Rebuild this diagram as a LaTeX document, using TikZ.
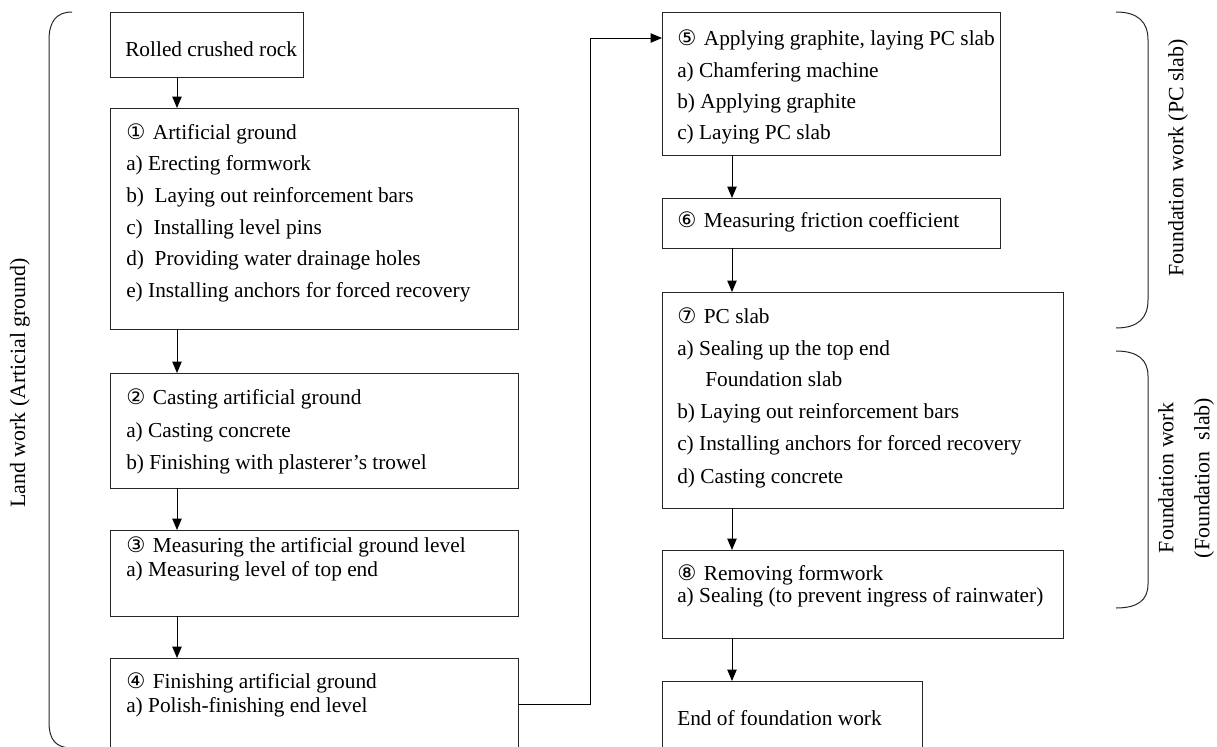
\documentclass[tikz,border=0pt]{standalone}
\usepackage{fontspec}
\setmainfont{Liberation Serif}
\newfontfamily\cf{DejaVu Sans}
\usetikzlibrary{arrows.meta,calc}
\newcommand\mkbox[5]{\node[box, minimum width={(#4)*0.75pt}, minimum height={(#5)*0.75pt}] (#1) at (#2,#3) {};}
\newcommand\cn[1]{{\cf\fontsize{16}{18}\selectfont #1}\hspace{0.35em}}
\begin{document}
\begin{tikzpicture}[x=0.75pt,y=-0.75pt,
  box/.style={draw=black!85, line width=0.75pt, anchor=north west, inner sep=0pt, outer sep=0pt},
  txt/.style={anchor=base west, inner sep=0pt, font=\fontsize{16}{19}\selectfont},
  side/.style={rotate=90, font=\fontsize{16.4}{27}\selectfont, align=center, inner sep=0pt},
  arr/.style={draw=black, line width=0.7pt, -{Triangle[length=8.5pt,width=7pt]}},
  brk/.style={draw=black!85, line width=0.75pt}]
\useasboundingbox (0,0) rectangle (1217,746);
% left column boxes
\mkbox{b0}{110}{12}{193}{65}
\mkbox{b1}{110}{108}{408}{221}
\mkbox{b2}{110}{373}{408}{115}
\mkbox{b3}{110}{530}{408}{86}
\mkbox{b4}{110}{658}{408}{142}
% right column boxes
\mkbox{b5}{662}{12}{338}{143}
\mkbox{b6}{662}{198}{338}{50}
\mkbox{b7}{662}{292}{401}{216}
\mkbox{b8}{662}{550}{401}{88}
\mkbox{b9}{662}{681}{260}{119}
% texts left
\node[txt] (t0) at (125,56) {Rolled crushed rock};
\node[txt] (t1a) at (126,139) {\cn{①}Artificial ground};
\node[txt] (t1b) at (126,170) {a) Erecting formwork};
\node[txt] (t1c) at (126,202) {b)\ \ Laying out reinforcement bars};
\node[txt] (t1d) at (126,234) {c)\ \ Installing level pins};
\node[txt] (t1e) at (126,265) {d)\ \ Providing water drainage holes};
\node[txt] (t1f) at (126,297) {e) Installing anchors for forced recovery};
\node[txt] (t2a) at (126,404) {\cn{②}Casting artificial ground};
\node[txt] (t2b) at (126,437) {a) Casting concrete};
\node[txt] (t2c) at (126,469) {b) Finishing with plasterer’s trowel};
\node[txt] (t3a) at (126,552) {\cn{③}Measuring the artificial ground level};
\node[txt] (t3b) at (126,576) {a) Measuring level of top end};
\node[txt] (t4a) at (126,688) {\cn{④}Finishing artificial ground};
\node[txt] (t4b) at (126,712) {a) Polish-finishing end level};
% texts right
\node[txt] (t5a) at (677,45) {\cn{⑤}Applying graphite, laying PC slab};
\node[txt] (t5b) at (677,77) {a) Chamfering machine};
\node[txt] (t5c) at (677,108) {b) Applying graphite};
\node[txt] (t5d) at (677,139) {c) Laying PC slab};
\node[txt] (t6a) at (677,227) {\cn{⑥}Measuring friction coefficient};
\node[txt] (t7a) at (677,323) {\cn{⑦}PC slab};
\node[txt] (t7b) at (677,355) {a) Sealing up the top end};
\node[txt] (t7c) at (705,386) {Foundation slab};
\node[txt] (t7d) at (677,418) {b) Laying out reinforcement bars};
\node[txt] (t7e) at (677,450) {c) Installing anchors for forced recovery};
\node[txt] (t7f) at (677,483) {d) Casting concrete};
\node[txt] (t8a) at (677,580) {\cn{⑧}Removing formwork};
\node[txt] (t8b) at (677,602) {a) Sealing (to prevent ingress of rainwater)};
\node[txt] (t9a) at (677,725) {End of foundation work};
% arrows
\draw[arr] ([xshift=67*0.75pt]b0.south west) -- ([xshift=67*0.75pt]b1.north west);
\draw[arr] ([xshift=67*0.75pt]b1.south west) -- ([xshift=67*0.75pt]b2.north west);
\draw[arr] ([xshift=67*0.75pt]b2.south west) -- ([xshift=67*0.75pt]b3.north west);
\draw[arr] ([xshift=67*0.75pt]b3.south west) -- ([xshift=67*0.75pt]b4.north west);
\draw[arr] ([xshift=70*0.75pt]b5.south west) -- ([xshift=70*0.75pt]b6.north west);
\draw[arr] ([xshift=70*0.75pt]b6.south west) -- ([xshift=70*0.75pt]b7.north west);
\draw[arr] ([xshift=70*0.75pt]b7.south west) -- ([xshift=70*0.75pt]b8.north west);
\draw[arr] ([xshift=70*0.75pt]b8.south west) -- ([xshift=70*0.75pt]b9.north west);
\draw[arr] ([yshift=-46*0.75pt]b4.north east) -| ([xshift=-72*0.75pt,yshift=-26*0.75pt]b5.north west) -- ([yshift=-26*0.75pt]b5.north west);
% brackets
\draw[brk] (72,12) .. controls (56,12) and (49,22) .. (49,40) -- (49,722) .. controls (49,740) and (56,748) .. (72,748);
\draw[brk] (1116,12) .. controls (1138,12) and (1148,22) .. (1148,40) -- (1148,300) .. controls (1148,318) and (1138,328) .. (1116,328);
\draw[brk] (1116,351) .. controls (1138,351) and (1148,360) .. (1148,376) -- (1148,584) .. controls (1148,600) and (1138,608) .. (1116,608);
% side labels
\node[side] (L) at (20,383) {Land work (Articial ground)};
\node[side] (R1) at (1178,158) {Foundation work (PC slab)};
\node[side] (R2) at (1186,478) {Foundation work\\(Foundation\ \ slab)};
\end{tikzpicture}
\end{document}
